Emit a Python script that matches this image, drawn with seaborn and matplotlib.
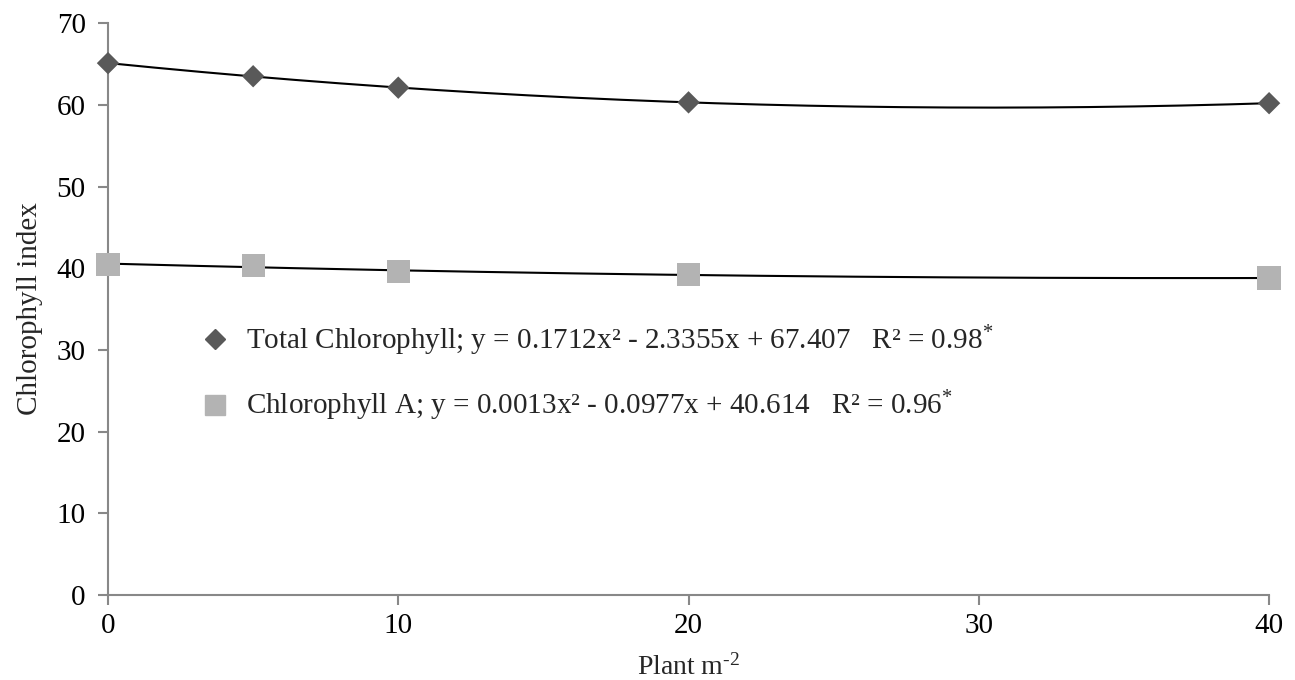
import numpy as np
import pandas as pd
import matplotlib
matplotlib.use("Agg")
import matplotlib.pyplot as plt
import seaborn as sns
from matplotlib.lines import Line2D

# Plant density (plants per m2) and measured chlorophyll indices
density = [0, 5, 10, 20, 40]
total_chl = [65.1, 63.5, 62.1, 60.3, 60.2]
chl_a = [40.5, 40.3, 39.6, 39.2, 38.8]

label_total = "Total Chlorophyll; y = 0.1712x² - 2.3355x + 67.407   R² = 0.98$^{*}$"
label_a = "Chlorophyll A; y = 0.0013x² - 0.0977x + 40.614   R² = 0.96$^{*}$"

sns.set_theme(style="white")
plt.rcParams["font.family"] = ["Liberation Serif", "DejaVu Serif"]
plt.rcParams["mathtext.fontset"] = "custom"
plt.rcParams["mathtext.rm"] = "Liberation Serif"
plt.rcParams["mathtext.it"] = "Liberation Serif:italic"

df = pd.DataFrame({"density": density, "total": total_chl, "a": chl_a})

fig = plt.figure(figsize=(12.95, 6.8), dpi=100)
ax = fig.add_axes([0.0834, 0.125, 0.8966, 0.841])

# Second-order polynomial trend lines
xs = np.linspace(0, 40, 200)
for col in ["total", "a"]:
    coef = np.polyfit(df["density"], df[col], 2)
    sns.lineplot(x=xs, y=np.polyval(coef, xs), color="black", linewidth=1.5, ax=ax, zorder=2)

sns.scatterplot(data=df, x="density", y="total", marker="D", s=130, color="#595959",
                edgecolor="none", ax=ax, zorder=3, clip_on=False)
sns.scatterplot(data=df, x="density", y="a", marker="s", s=280, color="#b3b3b3",
                edgecolor="none", ax=ax, zorder=3, clip_on=False)

ax.set_xlim(0, 40)
ax.set_ylim(0, 70)
ax.set_xticks([0, 10, 20, 30, 40])
ax.set_yticks(range(0, 71, 10))
ax.set_xlabel(r"Plant m$^{\text{-}2}$", fontsize=20, labelpad=11)
ax.set_ylabel("Chlorophyll index", fontsize=21, labelpad=10)
ax.tick_params(axis="both", labelsize=21, colors="#888888", labelcolor="black",
               length=7, width=1.5, direction="out", left=True, bottom=True)
ax.tick_params(axis="x", pad=6)
ax.tick_params(axis="y", pad=9)
for side in ["top", "right"]:
    ax.spines[side].set_visible(False)
for side in ["left", "bottom"]:
    ax.spines[side].set_color("#888888")
    ax.spines[side].set_linewidth(1.5)

handles = [
    Line2D([], [], marker="D", linestyle="none", color="#595959", markersize=10),
    Line2D([], [], marker="s", linestyle="none", color="#b3b3b3", markersize=14),
]
ax.legend(handles, [label_total, label_a], loc="upper left",
          bbox_to_anchor=(0.057, 0.52), frameon=False, fontsize=21,
          labelspacing=1.05, handletextpad=0.55, handlelength=1.0)

fig.savefig("out.png", dpi=100)
